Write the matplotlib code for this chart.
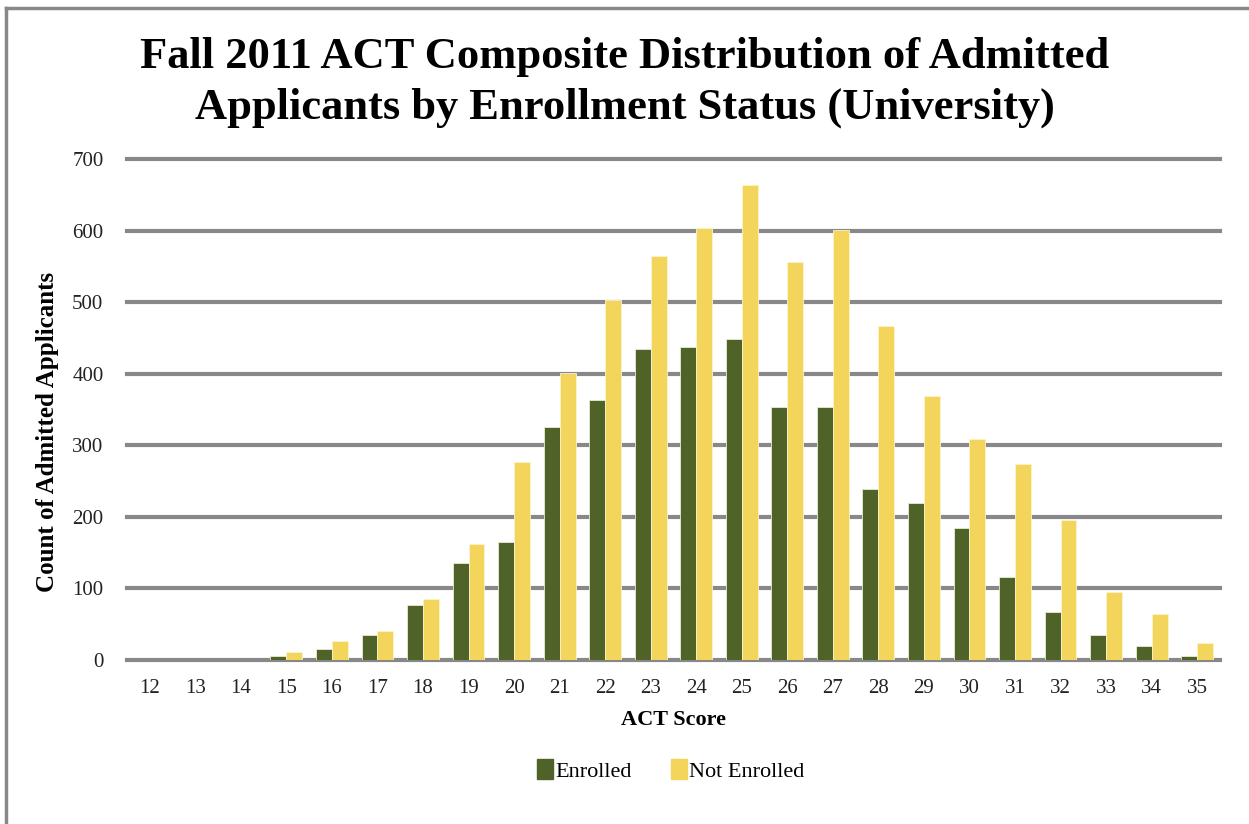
import numpy as np
import matplotlib
matplotlib.use("Agg")
from matplotlib import pyplot as plt
from matplotlib.lines import Line2D
from matplotlib.patches import Patch

plt.rcParams['font.family'] = ['Liberation Serif', 'DejaVu Serif']

scores = [str(s) for s in range(12, 36)]
enrolled = [0, 0, 0, 6, 16, 35, 77, 135, 165, 325, 364, 435, 438, 448,
            353, 353, 239, 219, 185, 116, 67, 35, 19, 6]
not_enrolled = [0, 0, 0, 11, 27, 40, 85, 162, 277, 401, 503, 564, 603, 664,
                556, 601, 467, 369, 309, 274, 196, 95, 64, 24]
yticks = [0, 100, 200, 300, 400, 500, 600, 700]

green = '#4F6228'
yellow = '#F3D55B'
grid = '#888888'

fig = plt.figure(figsize=(12.49, 8.24), dpi=100)
ax = fig.add_axes([0.1017, 0.199, 0.8750, 0.608])

x = np.arange(len(scores))
w = 0.35
ax.bar(x - w / 2, enrolled, w, color=green, edgecolor='#e8ecd8', linewidth=0.6,
       label='Enrolled', zorder=3)
ax.bar(x + w / 2, not_enrolled, w, color=yellow, edgecolor='#fbf3cc', linewidth=0.6,
       label='Not Enrolled', zorder=3)

ax.set_xlim(-0.5, len(scores) - 0.5)
ax.set_ylim(0, 700)
ax.set_yticks(yticks)
ax.set_xticks(x)
ax.set_xticklabels(scores)
ax.yaxis.grid(True, color=grid, linewidth=3, zorder=1)
for gl in ax.get_ygridlines():
    gl.set_clip_on(False)
ax.set_axisbelow(True)
for s in ax.spines.values():
    s.set_visible(False)
ax.tick_params(axis='both', length=0, labelsize=15, colors='#222222')
ax.tick_params(axis='y', pad=17)
ax.tick_params(axis='x', pad=14)

ax.set_xlabel('ACT Score', fontsize=16, fontweight='bold', labelpad=8)
ax.set_ylabel('Count of Admitted Applicants', fontsize=18, fontweight='bold')
ax.yaxis.set_label_coords(-0.062, 0.455)

fig.text(0.5, 0.900, 'Fall 2011 ACT Composite Distribution of Admitted\n'
         'Applicants by Enrollment Status (University)',
         ha='center', va='center', fontsize=32, fontweight='bold', linespacing=1.36)

handles = [Patch(color=green, label='Enrolled'), Patch(color=yellow, label='Not Enrolled')]
fig.legend(handles=handles, loc='center', bbox_to_anchor=(0.537, 0.065), ncol=2,
           frameon=False, fontsize=16, handlelength=0.7, handleheight=1.0,
           handletextpad=0.1, columnspacing=1.8)

# chart frame (left and top edges visible)
fig.add_artist(Line2D([0.005, 0.005], [0, 0.99], color=grid, linewidth=2.5))
fig.add_artist(Line2D([0.005, 1.0], [0.99, 0.99], color=grid, linewidth=2.5))

fig.savefig('out.png', dpi=100)
